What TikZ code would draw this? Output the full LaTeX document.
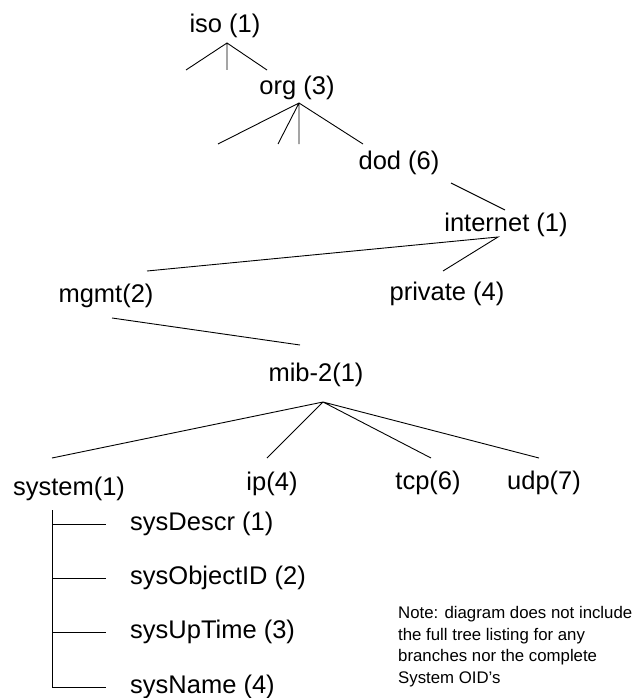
\documentclass[tikz,border=0pt]{standalone}
\usepackage{fontspec}
\setmainfont{Liberation Sans}
\tikzset{
  oid/.style={inner sep=0pt, font=\fontsize{25.5}{30}\selectfont},
  note/.style={inner sep=0pt, align=left, font=\fontsize{16.8}{21.7}\selectfont},
  branch/.style={line width=0.9pt},
}
\begin{document}
\begin{tikzpicture}[x=1pt,y=-1pt]
\useasboundingbox (0,0) rectangle (632,698);

% tree labels
\node[oid] (iso) at (225,26) {iso (1)};
\node[oid] (org) at (297,88) {org (3)};
\node[oid] (dod) at (399,163) {dod (6)};
\node[oid] (internet) at (506,225) {internet (1)};
\node[oid] (mgmt) at (106,296) {mgmt(2)};
\node[oid] (private) at (447,294) {private (4)};
\node[oid] (mib) at (316,375) {mib-2(1)};
\node[oid] (system) at (69,489) {system(1)};
\node[oid] (ip) at (272,484) {ip(4)};
\node[oid] (tcp) at (428,483) {tcp(6)};
\node[oid] (udp) at (544,483) {udp(7)};

% system group
\node[oid, anchor=west] (descr) at (130,524) {sysDescr (1)};
\node[oid, anchor=west] (objid) at (130,578) {sysObjectID (2)};
\node[oid, anchor=west] (uptime) at (130,632) {sysUpTime (3)};
\node[oid, anchor=west] (name) at (130,687) {sysName (4)};

\node[note, anchor=north west] (remark) at (398,606) {Note: diagram does not include\\the full tree listing for any\\branches nor the complete\\System OID's};

% branch points
\coordinate (isoA) at (227,43);
\coordinate (isoL) at (186,70);
\coordinate (isoM) at (227,70);
\coordinate (isoR) at (267,70);
\coordinate (orgA) at (299,103);
\coordinate (orgL) at (218,144);
\coordinate (orgK) at (278,144);
\coordinate (orgM) at (299,144);
\coordinate (orgR) at (363,144);
\coordinate (dodB) at (451,183);
\coordinate (intT) at (505,210);
\coordinate (intA) at (498,237);
\coordinate (mgmtT) at (147,271);
\coordinate (privT) at (443,271);
\coordinate (mgmtB) at (112,318);
\coordinate (mibT) at (300,345);
\coordinate (mibA) at (323,402);
\coordinate (sysT) at (52,458);
\coordinate (ipT) at (267,458);
\coordinate (tcpT) at (431,458);
\coordinate (udpT) at (539,458);
\coordinate (sysB) at (52,510);

\draw[branch] (isoL) -- (isoA) -- (isoR) (isoA) -- (isoM);
\draw[branch] (orgL) -- (orgA) -- (orgR) (orgA) -- (orgK) (orgA) -- (orgM);
\draw[branch] (dodB) -- (intT);
\draw[branch] (mgmtT) -- (intA) -- (privT);
\draw[branch] (mgmtB) -- (mibT);
\draw[branch] (sysT) -- (mibA) -- (udpT) (mibA) -- (ipT) (mibA) -- (tcpT);

\foreach \leaf in {descr,objid,uptime,name}
  \draw[branch, shorten >=24pt] (sysB) |- (\leaf);
\end{tikzpicture}
\end{document}
